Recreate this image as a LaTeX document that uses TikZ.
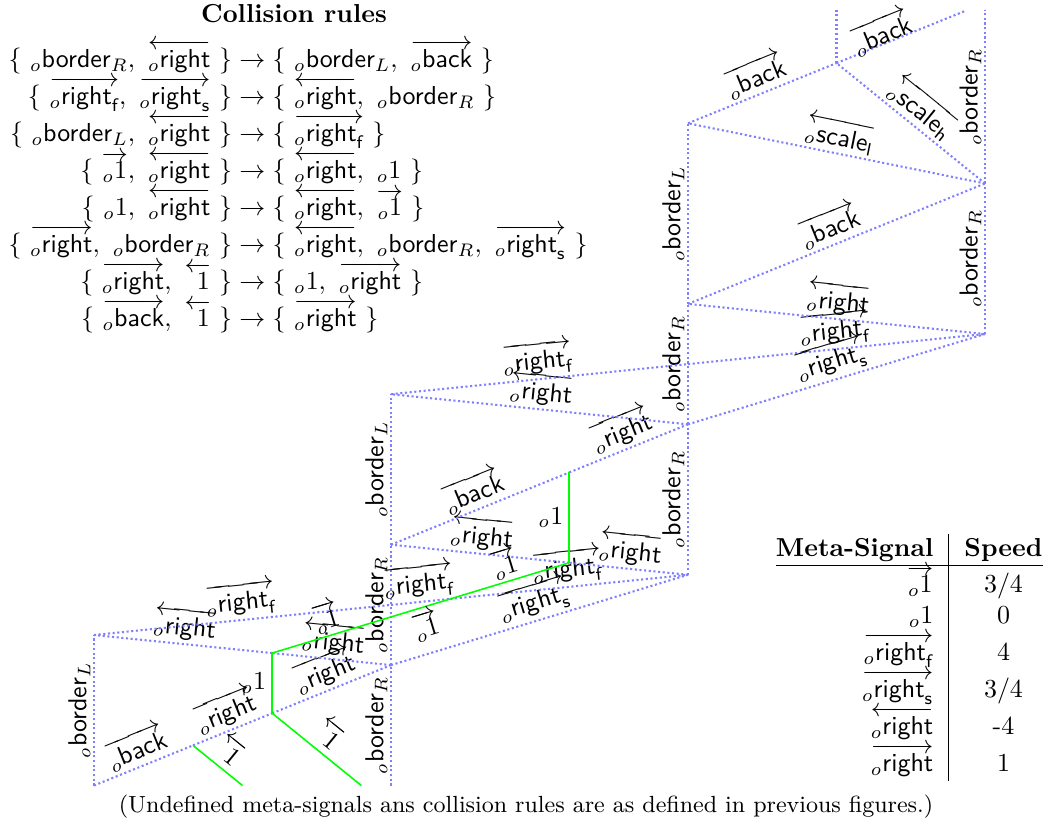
\documentclass[tikz,border=0pt]{standalone}
\usepackage{amsmath}
\usepackage{amssymb}
\usepackage{xcolor}
\usepackage{tikz}
\usetikzlibrary{positioning, calc}

\newcommand{\sig}[1]{{}_{o}\textsf{#1}}
\newcommand{\sigR}[1]{\overrightarrow{\sig{#1}}}
\newcommand{\sigL}[1]{\overleftarrow{\sig{#1}}}
\newcommand{\sigRs}[2]{\overrightarrow{\sig{#1}_{\textsf{#2}}}}
\newcommand{\sigLs}[2]{\overleftarrow{\sig{#1}_{\textsf{#2}}}}
\newcommand{\bordR}{\sig{border}_R}
\newcommand{\bordL}{\sig{border}_L}
\newcommand{\oneS}{{}_{o}1}
\newcommand{\oneR}{\overrightarrow{{}_{o}1}}
\newcommand{\oneL}{\overleftarrow{\phantom{{}_{o}}1}}

\begin{document}
\begin{tikzpicture}[x=0.385pt, y=-0.385pt,
    sig/.style={draw=blue!50, thick, densely dotted},
    unit/.style={draw=green, semithick},
    lab/.style={above, sloped, inner sep=1pt},
    lab below/.style={below, sloped, inner sep=1pt},
    stat/.style={left, inner sep=2pt}
]
\useasboundingbox (0,0) rectangle (1050,827);

% Collision rules
\node[font=\bfseries, anchor=base] (title) at (294,23) {Collision rules};
\node[anchor=base west, inner sep=0pt] (rules) at (8,68) {$\begin{array}[t]{@{}r@{\;\rightarrow\;}l@{}}
  \{\ \bordR,\ \sigL{right}\ \} & \{\ \bordL,\ \sigR{back}\ \} \\
  \{\ \sigRs{right}{f},\ \sigRs{right}{s}\ \} & \{\ \sigL{right},\ \bordR\ \} \\
  \{\ \bordL,\ \sigL{right}\ \} & \{\ \sigRs{right}{f}\ \} \\
  \{\ \oneR,\ \sigL{right}\ \} & \{\ \sigL{right},\ \oneS\ \} \\
  \{\ \oneS,\ \sigL{right}\ \} & \{\ \sigL{right},\ \oneR\ \} \\
  \{\ \sigR{right},\ \bordR\ \} & \{\ \sigL{right},\ \bordR,\ \sigRs{right}{s}\ \} \\
  \{\ \sigR{right},\ \oneL\ \} & \{\ \oneS,\ \sigR{right}\ \} \\
  \{\ \sigR{back},\ \oneL\ \} & \{\ \sigR{right}\ \}
\end{array}$};

% Speed table
\node[anchor=base east, inner sep=0pt] (speeds) at (1043,556) {\begin{tabular}[t]{@{}r|c@{}}
  \textbf{Meta-Signal} & \textbf{Speed} \\ \hline
  $\oneR$ & $3/4$ \\
  $\oneS$ & $0$ \\
  $\sigRs{right}{f}$ & $4$ \\
  $\sigRs{right}{s}$ & $3/4$ \\
  $\sigL{right}$ & -4 \\
  $\sigR{right}$ & $1$
\end{tabular}};

% Caption
\node[font=\small, anchor=base] (note) at (526,812) {(Undefined meta-signals ans collision rules are as defined in previous figures.)};

% Space-time diagram
\begin{scope}[shift={(94,785.5)}, x=114.345pt, y=11.5885pt]
\coordinate (o0) at (0,0);
\coordinate (o5) at (0,5);
\coordinate (a0) at (1,0);
\coordinate (a4) at (1,4);
\coordinate (a56) at (1,5.6);
\coordinate (a6) at (1,6);
\coordinate (a8) at (1,8);
\coordinate (a13) at (1,13);
\coordinate (b7) at (2,7);
\coordinate (b12) at (2,12);
\coordinate (b14) at (2,14);
\coordinate (b16) at (2,16);
\coordinate (b22) at (2,22);
\coordinate (c15) at (3,15);
\coordinate (c20) at (3,20);
\coordinate (ctop) at (3,25.75);
\coordinate (h24) at (2.5,24);
\coordinate (htop) at (2.5,25.75);
\coordinate (btop) at (2.9375,25.75);
\coordinate (u0) at (0.5,0);
\coordinate (u1) at (1/3,4/3);
\coordinate (v0) at (0.9,0);
\coordinate (v1) at (0.6,2.4);
\coordinate (v2) at (0.6,4.4);
\coordinate (w1) at (1.2,6.2);
\coordinate (w2) at (1.6,7.4);
\coordinate (w3) at (1.6,10.4);

% walls
\draw[sig] (o0)  -- node[lab] {$\bordL$} (o5);
\draw[sig] (a0)  -- node[lab] {$\bordR$} (a4);
\draw[sig] (a4)  -- node[lab] {$\bordR$} (a8);
\draw[sig] (a8)  -- node[lab] {$\bordL$} (a13);
\draw[sig] (b7)  -- node[lab] {$\bordR$} (b12);
\draw[sig] (b12) -- node[lab] {$\bordR$} (b16);
\draw[sig] (b16) -- node[lab] {$\bordL$} (b22);
\draw[sig] (c15) -- node[lab] {$\bordR$} (c20);
\draw[sig] (c20) -- node[lab] {$\bordR$} (ctop);
\draw[sig] (h24) -- (htop);

% first stair
\draw[sig] (o0)  -- node[lab] {$\sigR{back}$} (u1);
\draw[sig] (u1)  -- node[lab] {$\sigR{right}$} (v1);
\draw[sig] (v1)  -- node[lab] {$\sigR{right}$} (a4);
\draw[sig] (a4)  -- node[lab] {$\sigL{right}$} (v2);
\draw[sig] (v2)  -- node[lab] {$\sigL{right}$} (o5);
\draw[sig] (o5)  -- node[lab] {$\sigRs{right}{f}$} (a6);
\draw[sig] (a6)  -- node[lab] {$\sigRs{right}{f}$} (w1);
\draw[sig] (w1)  -- node[lab] {$\sigRs{right}{f}$} (b7);
\draw[sig] (a4)  -- node[lab] {$\sigRs{right}{s}$} (b7);

% second stair
\draw[sig] (b7)  -- node[lab] {$\sigL{right}$} (w2);
\draw[sig] (w2)  -- node[lab] {$\sigL{right}$} (a8);
\draw[sig] (a8)  -- node[lab] {$\sigR{back}$} (w3);
\draw[sig] (w3)  -- node[lab] {$\sigR{right}$} (b12);
\draw[sig] (b12) -- node[lab] {$\sigL{right}$} (a13);
\draw[sig] (a13) -- node[lab] {$\sigRs{right}{f}$} (b14);
\draw[sig] (b14) -- node[lab] {$\sigRs{right}{f}$} (c15);
\draw[sig] (b12) -- node[lab] {$\sigRs{right}{s}$} (c15);

% third stair
\draw[sig] (c15) -- node[lab] {$\sigL{right}$} (b16);
\draw[sig] (b16) -- node[lab] {$\sigR{back}$} (c20);
\draw[sig] (c20) -- node[lab] {$\sigLs{scale}{l}$} (b22);
\draw[sig] (c20) -- node[lab] {$\sigLs{scale}{h}$} (h24);
\draw[sig] (b22) -- node[lab] {$\sigR{back}$} (h24);
\draw[sig] (h24) -- node[lab, above=-3pt, pos=0.38] {$\sigR{back}$} (btop);

% unit signals
\draw[unit] (u0)  -- node[lab] {$\oneL$} (u1);
\draw[unit] (v0)  -- node[lab] {$\oneL$} (v1);
\draw[unit] (v1)  -- node[stat] {$\oneS$} (v2);
\draw[unit] (v2)  -- node[lab] {$\oneR$} (a56);
\draw[unit] (a56) -- node[lab below] {$\oneR$} (w1);
\draw[unit] (w1)  -- node[lab] {$\oneR$} (w2);
\draw[unit] (w2)  -- node[stat] {$\oneS$} (w3);
\end{scope}
\end{tikzpicture}
\end{document}
